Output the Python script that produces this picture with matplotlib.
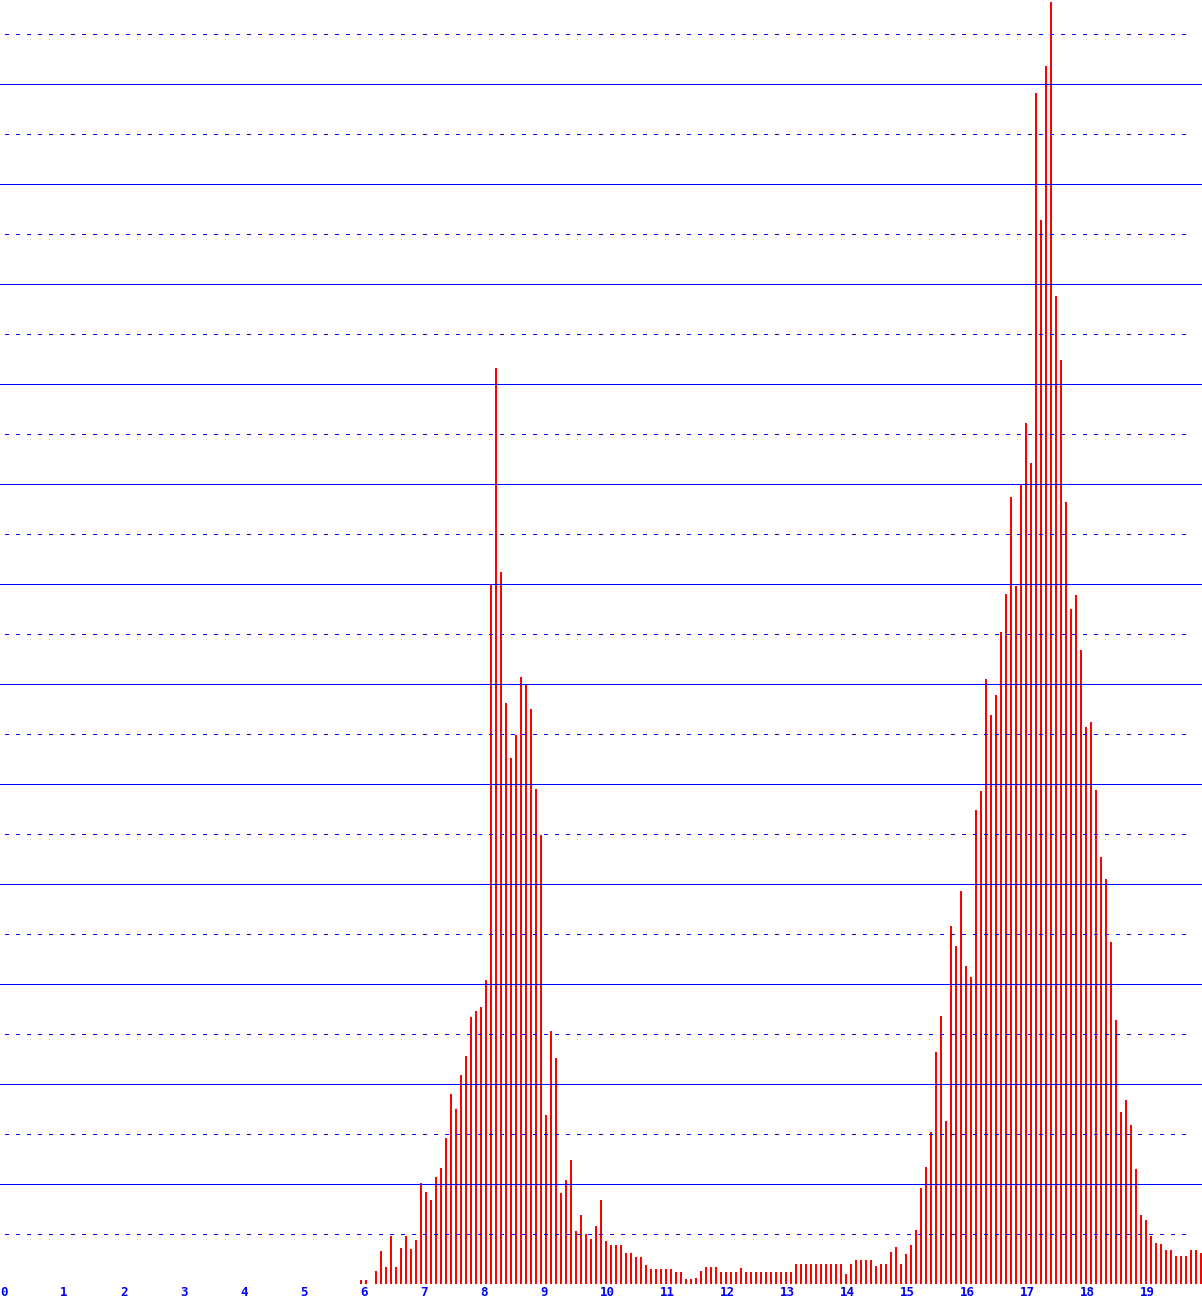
import matplotlib
matplotlib.use("Agg")
import matplotlib.pyplot as plt
import numpy as np

# 5-minute bins from 06:00 to 20:00, bar heights
bin_start_hour = 6
bin_end_hour = 20
counts = [
    4, 4, 0, 13, 33, 17, 48, 17, 36, 48, 35, 44,
    101, 92, 84, 107, 116, 146, 190, 175, 209, 228, 267, 273,
    277, 304, 700, 916, 712, 581, 526, 549, 607, 600, 575, 495,
    449, 169, 253, 226, 91, 104, 124, 53, 69, 50, 45, 58,
    84, 43, 39, 39, 39, 31, 31, 27, 27, 19, 15, 15,
    15, 15, 15, 12, 12, 5, 5, 6, 13, 17, 17, 17,
    12, 12, 12, 12, 16, 12, 12, 12, 12, 12, 12, 12,
    12, 12, 12, 20, 20, 20, 20, 20, 20, 20, 20, 20,
    20, 10, 20, 24, 24, 24, 24, 18, 20, 20, 32, 37,
    20, 30, 39, 54, 96, 117, 152, 232, 268, 163, 358, 338,
    393, 318, 307, 474, 493, 605, 569, 589, 652, 690, 787, 698,
    799, 861, 821, 1191, 1064, 1218, 1282, 988, 924, 782, 675, 689,
    634, 557, 562, 494, 427, 405, 342, 264, 172, 184, 159, 115,
    69, 64, 48, 41, 40, 34, 34, 28, 28, 28, 34, 34,
    31,
]
hour_labels = [str(h) for h in range(20)]

hours = np.arange(bin_start_hour * 12, bin_end_hour * 12 + 1) / 12.0

W, H = 1202, 1304
fig = plt.figure(figsize=(W / 100, H / 100), dpi=100)
fig.patch.set_facecolor("white")
ax = fig.add_axes([0, 20 / H, 1, 1284 / H])
ax.set_xlim(0, W / 60)
ax.set_ylim(0, 1284)
ax.set_facecolor("white")

ax.bar(hours, counts, width=2 / 60, align="edge", color="#ff0000",
       linewidth=0, antialiased=False, zorder=2)

# grid: solid every 100, dotted half way between
for y in range(0, 1284, 100):
    ax.axhline(y, color="#0000ff", lw=0.72, zorder=3, antialiased=False)
for y in range(50, 1284, 100):
    ax.axhline(y, xmin=5 / W, xmax=1192 / W, color="#0000ff", lw=0.72,
               dashes=(3, 7), zorder=3, antialiased=False)

for side in ax.spines.values():
    side.set_visible(False)
ax.set_xticks([])
ax.set_yticks([])

for h, lab in enumerate(hour_labels):
    ax.text(h, -8, lab, color="#0000ff", fontsize=9, family="DejaVu Sans Mono",
            fontweight="bold", ha="left", va="center", clip_on=False)

fig.savefig("out.png", dpi=100)
